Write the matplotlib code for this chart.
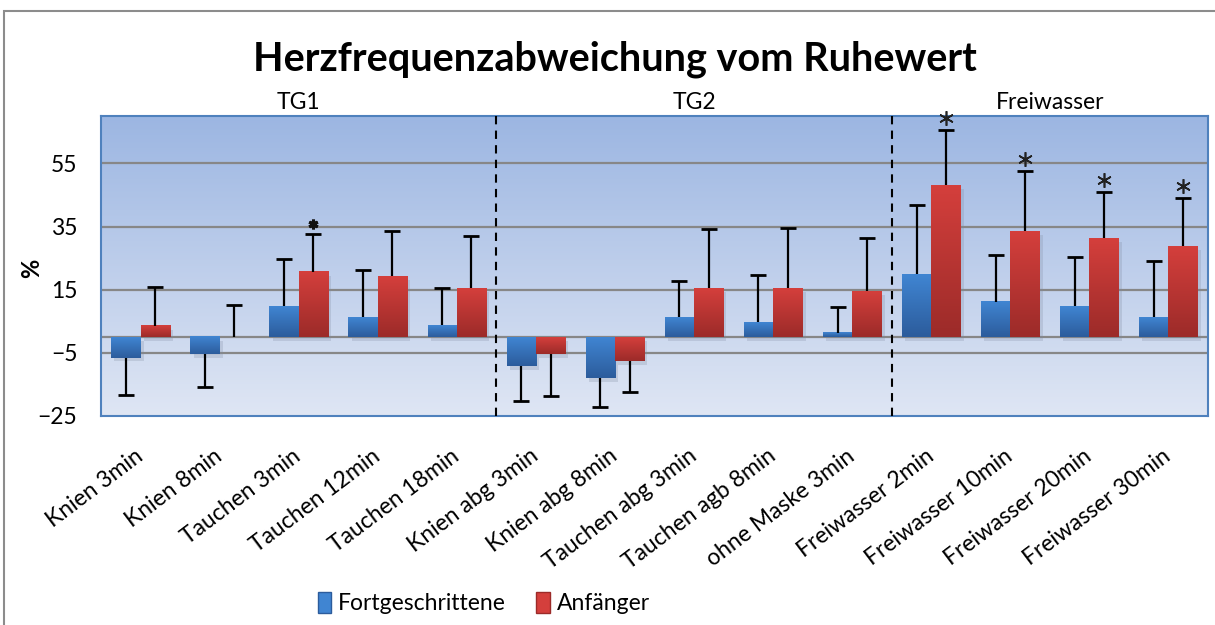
import numpy as np
import matplotlib
matplotlib.use("Agg")
import matplotlib.pyplot as plt
from matplotlib.colors import LinearSegmentedColormap
from matplotlib.patches import Patch, Rectangle

plt.rcParams["font.family"] = ["Lato", "DejaVu Sans"]

CATS = ["Knien 3min", "Knien 8min", "Tauchen 3min", "Tauchen 12min", "Tauchen 18min",
        "Knien abg 3min", "Knien abg 8min", "Tauchen abg 3min", "Tauchen agb 8min",
        "ohne Maske 3min", "Freiwasser 2min", "Freiwasser 10min", "Freiwasser 20min",
        "Freiwasser 30min"]
FORT = [-6.5, -5.4, 9.8, 6.3, 3.8, -9.1, -12.9, 6.3, 4.7, 1.3, 19.9, 11.1, 9.8, 6.3]
FORT_ERR = [11.8, 10.5, 14.8, 14.8, 11.6, 11.3, 9.4, 11.6, 14.8, 8.2, 21.8, 14.8, 15.7, 17.7]
ANF = [3.5, 0.0, 20.6, 19.3, 15.4, -5.3, -7.5, 15.4, 15.4, 14.5, 48.1, 33.5, 31.3, 28.8]
ANF_ERR = [12.2, 10.1, 12.1, 14.3, 16.5, 13.4, 10.0, 18.9, 19.1, 16.8, 17.4, 19.2, 14.6, 15.1]
STAR_IDX = [2, 10, 11, 12, 13]
GROUPS = ["TG1", "TG2", "Freiwasser"]
GROUP_SPAN = [(0, 4), (5, 9), (10, 13)]

BLUE = ("#4085d2", "#2c5c9c")
RED = ("#d43f3c", "#9c2b29")

fig = plt.figure(figsize=(12.15, 6.25), dpi=100)
fig.patches.append(Rectangle((4 / 1215, -0.1), 1.2, 1 - 11 / 625 + 0.1, transform=fig.transFigure,
                             fill=False, edgecolor="#8c8c8c", lw=1.5))
ax = fig.add_axes([101 / 1215, 1 - 416 / 625, 1107 / 1215, 300 / 625])
ymin, ymax = -25, 70
ax.set_xlim(-0.5, len(CATS) - 0.5)
ax.set_ylim(ymin, ymax)

# background gradient
bg = LinearSegmentedColormap.from_list("bg", ["#dfe6f4", "#9cb6e2"])
ax.imshow(np.linspace(0, 1, 256).reshape(-1, 1)[::-1], cmap=bg, aspect="auto",
          extent=(-0.5, len(CATS) - 0.5, ymin, ymax), zorder=0)

for t in [-5, 15, 35, 55]:
    ax.axhline(t, color="#878787", lw=1.6, zorder=1)
ax.axhline(0, color="#878787", lw=1.6, zorder=1)

x = np.arange(len(CATS))
w = 0.37


def grad_bars(xs, vals, cols):
    cm = LinearSegmentedColormap.from_list("b", [cols[1], cols[0]])
    for xi, v in zip(xs, vals):
        if v == 0:
            continue
        lo, hi = min(0, v), max(0, v)
        ax.add_patch(Rectangle((xi - w / 2 + 0.04, lo - 1.2), w, hi - lo, color="#7f8aa0",
                               alpha=0.25, lw=0, zorder=1.5))
        ax.imshow(np.linspace(0, 1, 64).reshape(-1, 1)[::-1], cmap=cm, aspect="auto",
                  extent=(xi - w / 2, xi + w / 2, lo, hi), zorder=2)


grad_bars(x - w / 2, FORT, BLUE)
grad_bars(x + w / 2, ANF, RED)


def err_bars(xs, vals, e):
    ends = [v - ei if v < 0 else v + ei for v, ei in zip(vals, e)]
    ax.vlines(xs, vals, ends, color="black", lw=1.6, zorder=3)
    ax.plot(xs, ends, ls="none", marker="_", ms=11, mew=2, color="black", zorder=3)
    return ends


err_bars(x - w / 2, FORT, FORT_ERR)
tops = err_bars(x + w / 2, ANF, ANF_ERR)

# significance asterisks
for i in STAR_IDX:
    if i == 2:
        ax.plot(i + w / 2, tops[i] + 3.0, marker=(6, 2, 0), ms=7, mew=2.2, color="#111",
                zorder=4, clip_on=False)
    else:
        ax.plot(i + w / 2, tops[i] + 3.8, marker=(6, 2, 0), ms=10.5, mew=1.2, color="#222",
                zorder=4, clip_on=False)

for b in [4.5, 9.5]:
    ax.axvline(b, color="black", lw=1.5, ls=(0, (4, 3)), zorder=3)

for (a, b), g in zip(GROUP_SPAN, GROUPS):
    ax.text((a + b) / 2, ymax + 0.8, g, ha="center", va="bottom", fontsize=16.5)

ax.set_yticks([-25, -5, 15, 35, 55])
ax.tick_params(axis="y", length=0, labelsize=16.5, pad=17)
ax.set_xticks(x)
ax.set_xticklabels(CATS, rotation=37, ha="right", va="center", rotation_mode="anchor",
                   fontsize=16.5)
ax.tick_params(axis="x", length=0, pad=27)
for s in ax.spines.values():
    s.set_color("#4f81bd")
    s.set_linewidth(1.5)
fig.text(32 / 1215, 1 - 268 / 625, "%", rotation=90, ha="center", va="center",
         fontsize=17, fontweight="bold")

fig.text(0.506, 0.905, "Herzfrequenzabweichung vom Ruhewert", ha="center", va="center",
         fontsize=28.5, fontweight="bold")

handles = [Patch(facecolor=BLUE[0], edgecolor=BLUE[1]), Patch(facecolor=RED[0], edgecolor=RED[1])]
fig.legend(handles, ["Fortgeschrittene", "Anfänger"], loc="center", bbox_to_anchor=(0.398, 0.035),
           ncol=2, frameon=False, fontsize=16.5, handlelength=0.6, handleheight=1.0,
           handletextpad=0.3, columnspacing=1.3)

fig.savefig("out.png", dpi=100)
